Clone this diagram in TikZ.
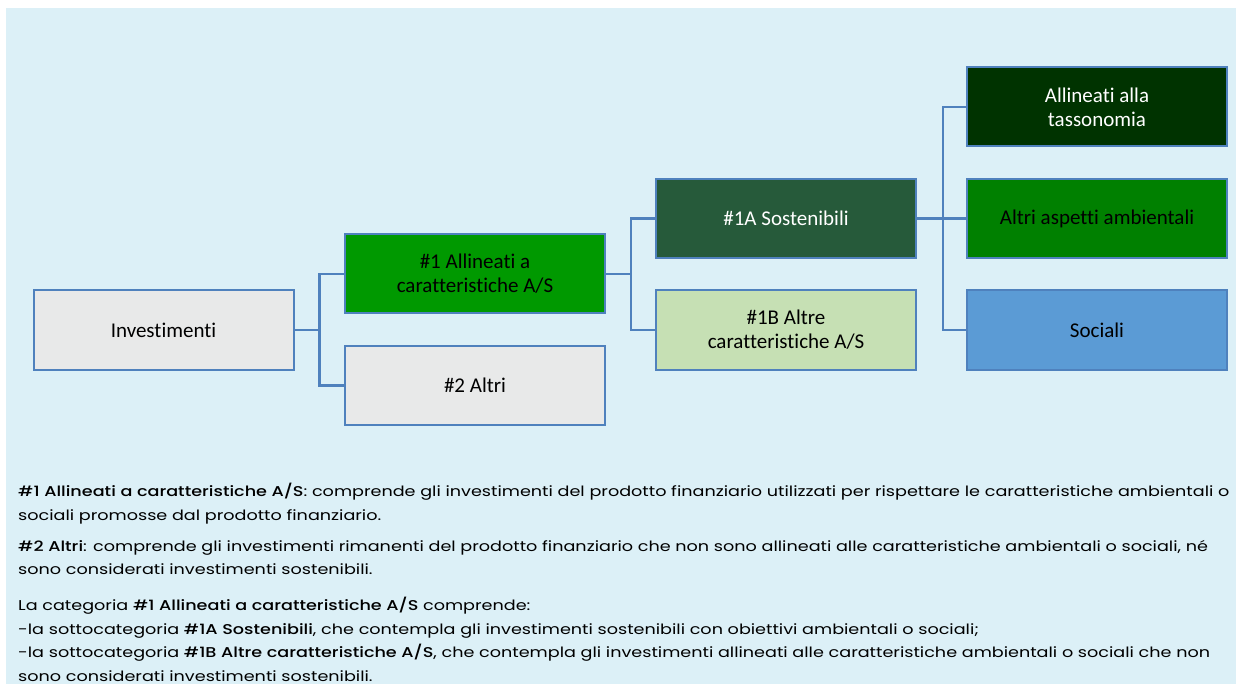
\documentclass[tikz,border=0pt]{standalone}
\usepackage{fontspec}
\setmainfont{Carlito}[Ligatures=NoCommon]
\newfontfamily\notefont{Poppins}[FakeStretch=1.24,BoldFont={Poppins Medium}]
\usepackage{tikz}
\definecolor{sfondo}{HTML}{DCF0F7}
\definecolor{bordo}{HTML}{4F81BD}
\definecolor{grigio}{HTML}{E8E9E9}
\definecolor{verde}{HTML}{009900}
\definecolor{verdescuro}{HTML}{265A3A}
\definecolor{verdechiaro}{HTML}{C6E0B4}
\definecolor{verdenotte}{HTML}{003300}
\definecolor{verdemedio}{HTML}{008000}
\definecolor{azzurro}{HTML}{5B9BD5}
\tikzset{
  box/.style={draw=bordo,line width=2pt,minimum width=260pt,minimum height=79pt,
    inner sep=0pt,align=center,font=\fontsize{21}{24}\selectfont},
  conn/.style={draw=bordo,line width=2.5pt},
  nota/.style={anchor=north west,inner sep=0pt,align=left,
    font=\notefont\fontsize{14.2}{23.5}\selectfont}
}

\begin{document}
\begin{tikzpicture}[x=1pt,y=-1pt]
    \useasboundingbox (0,0) rectangle (1236,684);
    \fill[sfondo] (6,8) rectangle (1236,684);
    % albero
    \node[box,fill=grigio] (inv) at (163.5,330) {Investimenti};
    \node[box,fill=verde] (all) at (475,274) {\#1 Allineati a\\caratteristiche A/S};
    \node[box,fill=grigio] (alt) at (475,385.5) {\#2 Altri};
    \node[box,fill=verdescuro,text=white] (sost) at (786,218.5) {\#1A Sostenibili};
    \node[box,fill=verdechiaro] (altre) at (786,330) {\#1B Altre\\caratteristiche A/S};
    \node[box,fill=verdenotte,text=white] (tass) at (1097,107) {Allineati alla\\tassonomia};
    \node[box,fill=verdemedio] (amb) at (1097,218.5) {Altri aspetti ambientali};
    \node[box,fill=azzurro] (soc) at (1097,330) {Sociali};
    \draw[conn] (inv.east) -- ++(25,0) |- (all.west);
    \draw[conn] (inv.east) -- ++(25,0) |- (alt.west);
    \draw[conn] (all.east) -- ++(25,0) |- (sost.west);
    \draw[conn] (all.east) -- ++(25,0) |- (altre.west);
    \draw[conn] (sost.east) -- ++(26,0) |- (tass.west);
    \draw[conn] (sost.east) -- (amb.west);
    \draw[conn] (sost.east) -- ++(26,0) |- (soc.west);
    % note
    \node[nota] (n1) at (18,483) {{\bfseries \#1 Allineati a caratteristiche A/S}: comprende gli investimenti del prodotto finanziario utilizzati per rispettare le caratteristiche ambientali o\\sociali promosse dal prodotto finanziario.};
    \node[nota] (n2) at (18,540) {{\bfseries \#2 Altri}: comprende gli investimenti rimanenti del prodotto finanziario che non sono allineati alle caratteristiche ambientali o sociali, né\\sono considerati investimenti sostenibili.};
    \node[nota] (n3) at (18,597) {La categoria {\bfseries \#1 Allineati a caratteristiche A/S} comprende:\\-la sottocategoria {\bfseries \#1A Sostenibili}, che contempla gli investimenti sostenibili con obiettivi ambientali o sociali;\\-la sottocategoria {\bfseries \#1B Altre caratteristiche A/S}, che contempla gli investimenti allineati alle caratteristiche ambientali o sociali che non\\sono considerati investimenti sostenibili.};
\end{tikzpicture}
\end{document}
